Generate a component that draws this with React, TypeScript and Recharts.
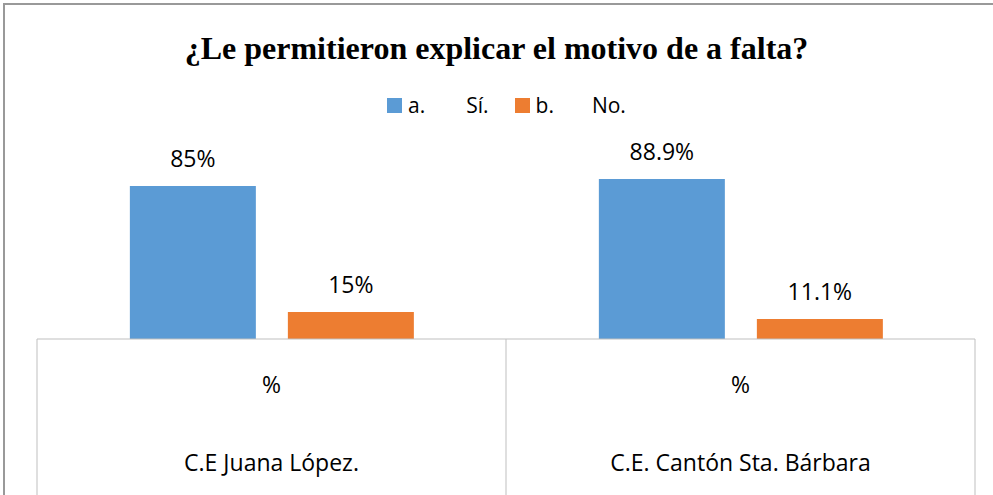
import React from "react"
import { BarChart, Bar, XAxis, YAxis, LabelList } from "recharts"

const schools = ["C.E Juana López.", "C.E. Cantón Sta. Bárbara"]
const unitLabels = ["%", "%"]
const yesValues = [85, 88.9]
const noValues = [15, 11.1]
const seriesLetters = ["a.", "b."]
const seriesNames = ["Sí.", "No."]
const seriesColors = ["#5b9bd5", "#ed7d31"]

const data = schools.map((name, i) => ({ name, unit: unitLabels[i], yes: yesValues[i], no: noValues[i] }))

const W = 993
const H = 495
const M = { top: 159, right: 18, left: 37, bottom: 0 }
const BAND = (W - M.left - M.right) / schools.length
const BASE_Y = 339
const FONT = "'Open Sans', sans-serif"

function CategoryTick(props: any) {
  const { x, payload, index } = props
  const left = x - BAND / 2
  const right = x + BAND / 2
  return (
    <g>
      <line x1={left} y1={BASE_Y} x2={left} y2={H} stroke="#bfbfbf" />
      {index === schools.length - 1 && <line x1={right} y1={BASE_Y} x2={right} y2={H} stroke="#bfbfbf" />}
      <text x={x} y={393} textAnchor="middle" fontSize={23} fill="#000" fontFamily={FONT}>
        {unitLabels[index]}
      </text>
      <text x={x} y={471} textAnchor="middle" fontSize={23} fill="#000" fontFamily={FONT}>
        {payload.value}
      </text>
    </g>
  )
}

function ChartLegend() {
  const textStyle = { fontFamily: FONT, fontSize: 21, color: "#000", lineHeight: "24px" }
  return (
    <div style={{ position: "absolute", left: 387, top: 93, display: "flex", alignItems: "center" }}>
      {seriesNames.map((n, i) => (
        <span key={n} style={{ display: "flex", alignItems: "center", marginRight: i === 0 ? 26 : 0 }}>
          <span style={{ width: 15, height: 15, background: seriesColors[i], display: "inline-block", marginRight: 6 }} />
          <span style={textStyle}>{seriesLetters[i]}</span>
          <span style={{ ...textStyle, marginLeft: i === 0 ? 41 : 38 }}>{n}</span>
        </span>
      ))}
    </div>
  )
}

export default function App() {
  return (
    <div style={{ position: "absolute", left: 0, top: 0, width: W, height: H, overflow: "hidden", background: "#fff" }}>
      <div
        style={{
          position: "absolute",
          left: 3,
          top: 3,
          width: 1000,
          height: 520,
          border: "2px solid #999",
        }}
      />
      <div
        style={{
          position: "absolute",
          left: 0,
          top: 28,
          width: W,
          textAlign: "center",
          fontFamily: "'Liberation Serif', serif",
          fontWeight: "bold",
          fontSize: 32,
          lineHeight: "40px",
          color: "#000",
        }}
      >
        ¿Le permitieron explicar el motivo de a falta?
      </div>
      <ChartLegend />
      <div style={{ position: "absolute", left: 0, top: 0 }}>
        <BarChart width={W} height={H} data={data} margin={M} barCategoryGap="19.8%" barGap={32}>
          <XAxis
            dataKey="name"
            axisLine={{ stroke: "#bfbfbf" }}
            tickLine={false}
            height={H - BASE_Y}
            interval={0}
            tick={<CategoryTick />}
          />
          <YAxis hide domain={[0, 100]} />
          {[0, 1].map((i) => (
            <Bar key={i} dataKey={i === 0 ? "yes" : "no"} fill={seriesColors[i]} isAnimationActive={false}>
              <LabelList
                dataKey={i === 0 ? "yes" : "no"}
                position="top"
                offset={19}
                formatter={(v: any) => `${v}%`}
                fill="#000"
                fontSize={23}
                fontFamily={FONT}
              />
            </Bar>
          ))}
        </BarChart>
      </div>
    </div>
  )
}
